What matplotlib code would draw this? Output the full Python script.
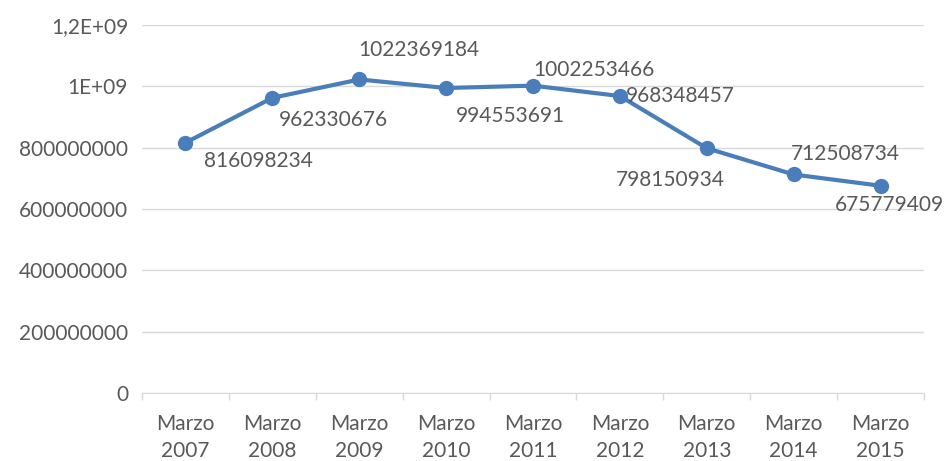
import matplotlib.pyplot as plt
import numpy as np

plt.rcParams['font.family'] = ['Lato', 'DejaVu Sans']

categories = ['Marzo\n2007', 'Marzo\n2008', 'Marzo\n2009', 'Marzo\n2010', 'Marzo\n2011',
              'Marzo\n2012', 'Marzo\n2013', 'Marzo\n2014', 'Marzo\n2015']
values = [816098234, 962330676, 1022369184, 994553691, 1002253466,
          968348457, 798150934, 712508734, 675779409]
y_ticks = [0, 200000000, 400000000, 600000000, 800000000, 1000000000, 1200000000]
y_tick_labels = ['0', '200000000', '400000000', '600000000', '800000000', '1E+09', '1,2E+09']

# label offsets in pixels (dx, dy)
label_offsets = [(73, -18), (61, -22), (60, 29), (64, -28), (61, 16),
                 (60, 0), (-36, -32), (52, 20), (9, -19)]

TEXT = '#595959'
GRID = '#d9d9d9'
BLUE = '#4a7ebb'
FS = 15

fig = plt.figure(figsize=(9.48, 4.61), dpi=100)
ax = fig.add_axes([142 / 948, 1 - 393 / 461, 782 / 948, 368 / 461])

x = np.arange(len(categories))
ax.plot(x, values, color=BLUE, linewidth=3, marker='o', markersize=10, zorder=3)

for xi, v, (dx, dy) in zip(x, values, label_offsets):
    ax.annotate(str(v), (xi, v), xytext=(dx, dy), textcoords='offset pixels',
                ha='center', va='center', fontsize=FS, color=TEXT)

ax.set_xlim(-0.5, len(categories) - 0.5)
ax.set_ylim(0, 1200000000)
ax.set_yticks(y_ticks)
ax.set_yticklabels(y_tick_labels)
ax.set_xticks(x)
ax.set_xticklabels(categories, linespacing=1.45)
ax.set_xticks(np.arange(len(categories) + 1) - 0.5, minor=True)

ax.tick_params(axis='y', length=0, pad=10, labelsize=FS, labelcolor=TEXT)
ax.tick_params(axis='x', which='major', length=0, pad=15, labelsize=FS, labelcolor=TEXT)
ax.tick_params(axis='x', which='minor', length=5, color=GRID, width=1)

ax.grid(axis='y', color=GRID, linewidth=1)
ax.set_axisbelow(True)
for side in ['left', 'right', 'top']:
    ax.spines[side].set_visible(False)
ax.spines['bottom'].set_color(GRID)

fig.savefig('out.png', dpi=100)
